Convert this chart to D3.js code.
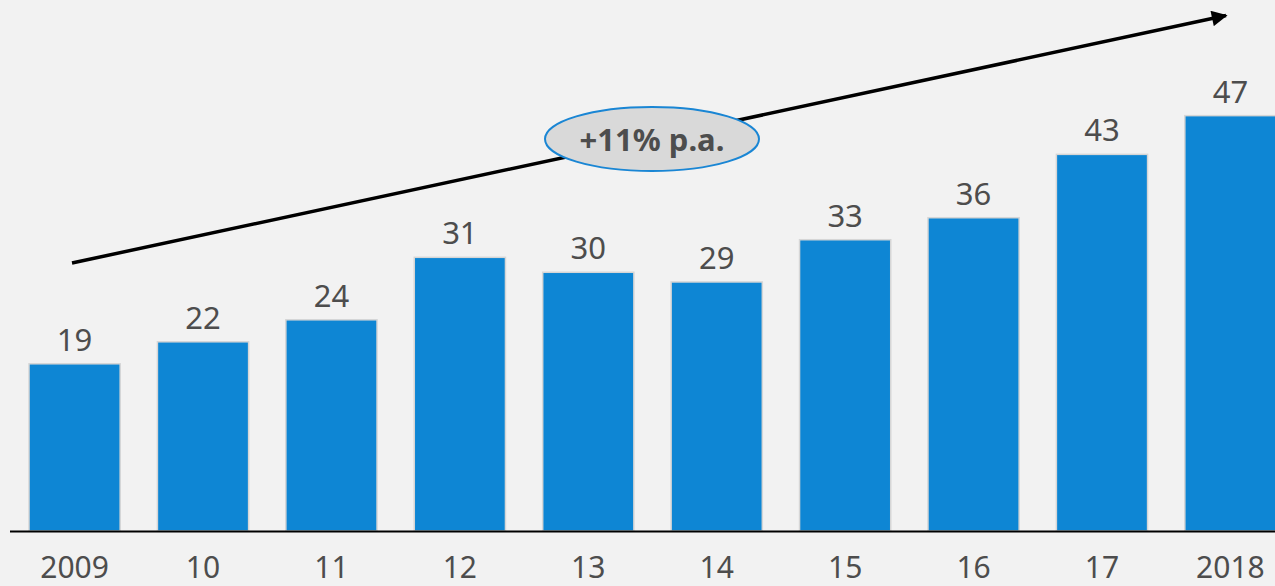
<!DOCTYPE html>
<html>
<head>
<meta charset="utf-8">
<script src="https://cdn.jsdelivr.net/npm/d3@7/dist/d3.min.js"></script>
<style>
  body { margin: 0; background: #f2f2f2; overflow: hidden; }
  text { font-family: "Noto Sans", sans-serif; }
</style>
</head>
<body>
<script>
const years = ['2009', '10', '11', '12', '13', '14', '15', '16', '17', '2018']
// bar heights as drawn, and the rounded labels printed above them
const values = [19, 21.5, 24, 31.1, 29.4, 28.3, 33.1, 35.6, 42.8, 47.2]
const valueLabels = ['19', '22', '24', '31', '30', '29', '33', '36', '43', '47']
const growthLabel = '+11% p.a.'

const width = 1275
const height = 586
const svg = d3.select('body').append('svg')
  .attr('width', width)
  .attr('height', height)

svg.append('rect').attr('width', width).attr('height', height).attr('fill', '#f2f2f2')

const x = d3.scaleBand()
  .domain(years)
  .range([29, 1276])
  .paddingInner(0.29)
  .paddingOuter(0)

const y = d3.scaleLinear()
  .domain([0, 60])
  .range([531, 3])

// bars
svg.selectAll('rect.bar')
  .data(values)
  .join('rect')
  .attr('class', 'bar')
  .attr('x', (d, i) => x(years[i]))
  .attr('y', d => y(d))
  .attr('width', x.bandwidth())
  .attr('height', d => y(0) - y(d))
  .attr('fill', '#0e86d4')
  .attr('stroke', '#d6d6d6')
  .attr('stroke-width', 1.5)

// value labels
svg.selectAll('text.val')
  .data(values)
  .join('text')
  .attr('class', 'val')
  .attr('x', (d, i) => x(years[i]) + x.bandwidth() / 2)
  .attr('y', d => y(d) - 13)
  .attr('text-anchor', 'middle')
  .attr('font-size', 31)
  .attr('fill', '#4d4d4d')
  .text((d, i) => valueLabels[i])

// baseline
svg.append('line')
  .attr('x1', 10).attr('x2', width)
  .attr('y1', y(0) + 0.5).attr('y2', y(0) + 0.5)
  .attr('stroke', '#000')
  .attr('stroke-width', 2)

// axis labels
svg.selectAll('text.cat')
  .data(years)
  .join('text')
  .attr('class', 'cat')
  .attr('x', d => x(d) + x.bandwidth() / 2)
  .attr('y', 578)
  .attr('text-anchor', 'middle')
  .attr('font-size', 30)
  .attr('fill', '#4d4d4d')
  .text(d => d)

// growth arrow
svg.append('defs').append('marker')
  .attr('id', 'arrow')
  .attr('viewBox', '0 0 10 10')
  .attr('refX', 9).attr('refY', 5)
  .attr('markerWidth', 5).attr('markerHeight', 4.5)
  .attr('orient', 'auto')
  .attr('markerUnits', 'strokeWidth')
  .append('path')
  .attr('d', 'M0,0 L10,5 L0,10 z')
  .attr('fill', '#000')

svg.append('line')
  .attr('x1', 72).attr('y1', 263)
  .attr('x2', 1226).attr('y2', 15.5)
  .attr('stroke', '#000')
  .attr('stroke-width', 3.5)
  .attr('marker-end', 'url(#arrow)')

// CAGR bubble
svg.append('ellipse')
  .attr('cx', 652).attr('cy', 139)
  .attr('rx', 107).attr('ry', 32)
  .attr('fill', '#d9d9d9')
  .attr('stroke', '#1a86d4')
  .attr('stroke-width', 2)

svg.append('text')
  .attr('x', 652).attr('y', 151)
  .attr('text-anchor', 'middle')
  .attr('font-size', 31)
  .attr('font-weight', 'bold')
  .attr('fill', '#4d4d4d')
  .text(growthLabel)
</script>
</body>
</html>
